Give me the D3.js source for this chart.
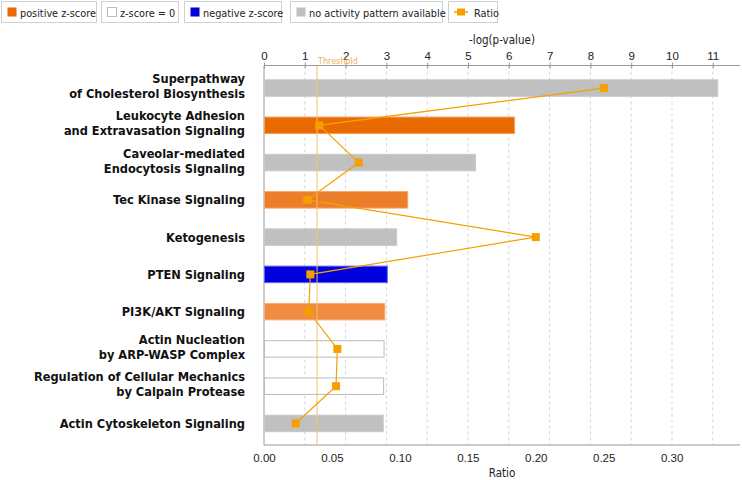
<!DOCTYPE html>
<html>
<head>
<meta charset="utf-8">
<script src="https://cdn.jsdelivr.net/npm/d3@7"></script>
<style>
  body { margin: 0; background: #fff; }
  svg { font-family: "DejaVu Sans Condensed", "DejaVu Sans", Verdana, sans-serif; font-stretch: condensed; }
</style>
</head>
<body>
<div id="chart"></div>
<script>
// pathway rows, top to bottom
const pathways = [
    ["Superpathway", "of Cholesterol Biosynthesis"],
    ["Leukocyte Adhesion", "and Extravasation Signaling"],
    ["Caveolar-mediated", "Endocytosis Signaling"],
    ["Tec Kinase Signaling"],
    ["Ketogenesis"],
    ["PTEN Signaling"],
    ["PI3K/AKT Signaling"],
    ["Actin Nucleation", "by ARP-WASP Complex"],
    ["Regulation of Cellular Mechanics", "by Calpain Protease"],
    ["Actin Cytoskeleton Signaling"]
];
const negLogP = [11.11, 6.13, 5.17, 3.51, 3.24, 3.01, 2.95, 2.93, 2.92, 2.91];
const ratio = [0.250, 0.0407, 0.0697, 0.0319, 0.200, 0.0341, 0.0329, 0.054, 0.053, 0.0233];
const zClass = ["none", "pos3", "none", "pos2", "none", "neg", "pos1", "zero", "zero", "none"];
const logTicks = [0, 1, 2, 3, 4, 5, 6, 7, 8, 9, 10, 11];
const ratioTicks = [0, 0.05, 0.10, 0.15, 0.20, 0.25, 0.30];
const threshold = 1.3;

const legendItems = [
    {label: "positive z-score", cls: "pos3"},
    {label: "z-score = 0", cls: "zero"},
    {label: "negative z-score", cls: "neg"},
    {label: "no activity pattern available", cls: "none"},
    {label: "Ratio", cls: "ratio"}
];

const fills = {pos3: "#e86a00", pos2: "#ec7e2a", pos1: "#f08c40", neg: "#0000dd", zero: "#ffffff", none: "#c0c0c0"};
const strokes = {pos3: "#f0a060", pos2: "#f2a870", pos1: "#f4b080", neg: "#6060ff", zero: "#bbbbbb", none: "#c8c8c8"};
const orange = "#f5a000";

const width = 742, height = 480;
const plot = {left: 264, right: 740, top: 65.5, bottom: 445};
const midX = (plot.left + plot.right) / 2;

const svg = d3.select("#chart").append("svg")
    .attr("width", width)
    .attr("height", height);

const x = d3.scaleLinear().domain([0, 11.667]).range([plot.left, plot.right]);
const xr = d3.scaleLinear().domain([0, 0.3503]).range([plot.left, plot.right]);
const y = d3.scaleBand().domain(d3.range(pathways.length)).range([69.4, 442.1]);
const barH = 16.5;

// grid
svg.append("g").selectAll("line")
    .data(logTicks.slice(1))
    .enter().append("line")
    .attr("x1", d => x(d)).attr("x2", d => x(d))
    .attr("y1", plot.top).attr("y2", plot.bottom)
    .attr("stroke", "#d4d4d4")
    .attr("stroke-dasharray", "3,3");

// top axis
const topAxis = svg.append("g")
    .attr("transform", `translate(0,${plot.top})`)
    .call(d3.axisTop(x).tickValues(logTicks).tickSize(3).tickFormat(d3.format("d")));
topAxis.select(".domain").attr("d", `M${plot.left},0H${plot.right}`).attr("stroke", "#999");
topAxis.selectAll(".tick line").attr("stroke", "#999").attr("y2", 3).attr("y1", -3);
topAxis.selectAll(".tick text").attr("font-size", 11.5).attr("fill", "#222").attr("y", -5.5).attr("dy", 0);

svg.append("text")
    .attr("x", midX).attr("y", 44)
    .attr("text-anchor", "middle")
    .attr("font-size", 11.5).attr("fill", "#222")
    .text("-log(p-value)");

// bottom axis
const botAxis = svg.append("g")
    .attr("transform", `translate(0,${plot.bottom})`)
    .call(d3.axisBottom(xr).tickValues(ratioTicks).tickSize(0).tickFormat(d3.format(".2f")));
botAxis.select(".domain").attr("d", `M${plot.left},0H${plot.right}`).attr("stroke", "#999");
botAxis.selectAll(".tick text").attr("font-size", 11.5).attr("fill", "#222").attr("y", 9).attr("dy", "0.71em");

svg.append("text")
    .attr("x", midX).attr("y", 477)
    .attr("text-anchor", "middle")
    .attr("font-size", 11.5).attr("fill", "#222")
    .text("Ratio");

// left axis line
svg.append("line")
    .attr("x1", plot.left).attr("x2", plot.left)
    .attr("y1", plot.top).attr("y2", plot.bottom)
    .attr("stroke", "#999");

// bars
svg.append("g").selectAll("rect")
    .data(negLogP)
    .enter().append("rect")
    .attr("x", x(0) + 0.5)
    .attr("y", (d, i) => y(i) + y.bandwidth() / 2 - barH / 2)
    .attr("width", d => x(d) - x(0))
    .attr("height", barH)
    .attr("fill", (d, i) => fills[zClass[i]])
    .attr("stroke", (d, i) => strokes[zClass[i]])
    .attr("stroke-width", 1);

// threshold
svg.append("line")
    .attr("x1", x(threshold)).attr("x2", x(threshold))
    .attr("y1", plot.top).attr("y2", plot.bottom)
    .attr("stroke", "#f5c070")
    .attr("stroke-width", 1);
svg.append("text")
    .attr("x", x(threshold) + 1).attr("y", 64)
    .attr("font-size", 9).attr("fill", "#f0b050")
    .text("Threshold");

// ratio line
const line = d3.line()
    .x(d => xr(d))
    .y((d, i) => y(i) + y.bandwidth() / 2);
svg.append("path")
    .datum(ratio)
    .attr("d", line)
    .attr("fill", "none")
    .attr("stroke", orange)
    .attr("stroke-width", 1.2);
svg.append("g").selectAll("rect")
    .data(ratio)
    .enter().append("rect")
    .attr("x", d => xr(d) - 4)
    .attr("y", (d, i) => y(i) + y.bandwidth() / 2 - 4)
    .attr("width", 8).attr("height", 8)
    .attr("fill", orange);

// labels
const labels = svg.append("g").selectAll("text")
    .data(pathways)
    .enter().append("text")
    .attr("text-anchor", "end")
    .attr("font-size", 12.7)
    .attr("font-weight", "bold")
    .attr("fill", "#111")
    .attr("x", 245)
    .attr("y", (d, i) => y(i) + y.bandwidth() / 2 + (d.length > 1 ? -9.5 : 0));
labels.selectAll("tspan")
    .data(d => d)
    .enter().append("tspan")
    .attr("x", 245)
    .attr("dy", (d, j) => j === 0 ? "0.36em" : "15")
    .text(d => d);

// legend
const legendX = [1, 101, 184, 290, 448];
const legendW = [95, 77, 97, 152, 49];
const lg = svg.append("g").selectAll("g")
    .data(legendItems)
    .enter().append("g")
    .attr("transform", (d, i) => `translate(${legendX[i]},1)`);
lg.append("rect")
    .attr("x", 0.5).attr("y", 0.5)
    .attr("width", (d, i) => legendW[i]).attr("height", 21)
    .attr("fill", "#fff")
    .attr("stroke", "#d0d0d0");
lg.each(function (d) {
    const g = d3.select(this);
    if (d.cls === "ratio") {
        g.append("line").attr("x1", 6).attr("x2", 20).attr("y1", 11).attr("y2", 11)
            .attr("stroke", orange).attr("stroke-width", 1.5);
        g.append("rect").attr("x", 9).attr("y", 7.5).attr("width", 8).attr("height", 7).attr("fill", orange);
    } else {
        g.append("rect").attr("x", 6.5).attr("y", 6.5).attr("width", 9).attr("height", 9)
            .attr("fill", d.cls === "zero" ? "#fff" : fills[d.cls])
            .attr("stroke", d.cls === "zero" ? "#bbb" : "none");
    }
});
lg.append("text")
    .attr("x", d => d.cls === "ratio" ? 26 : 19)
    .attr("y", 12)
    .attr("dy", "0.35em")
    .attr("font-size", 10.8)
    .attr("fill", "#222")
    .text(d => d.label);
</script>
</body>
</html>
